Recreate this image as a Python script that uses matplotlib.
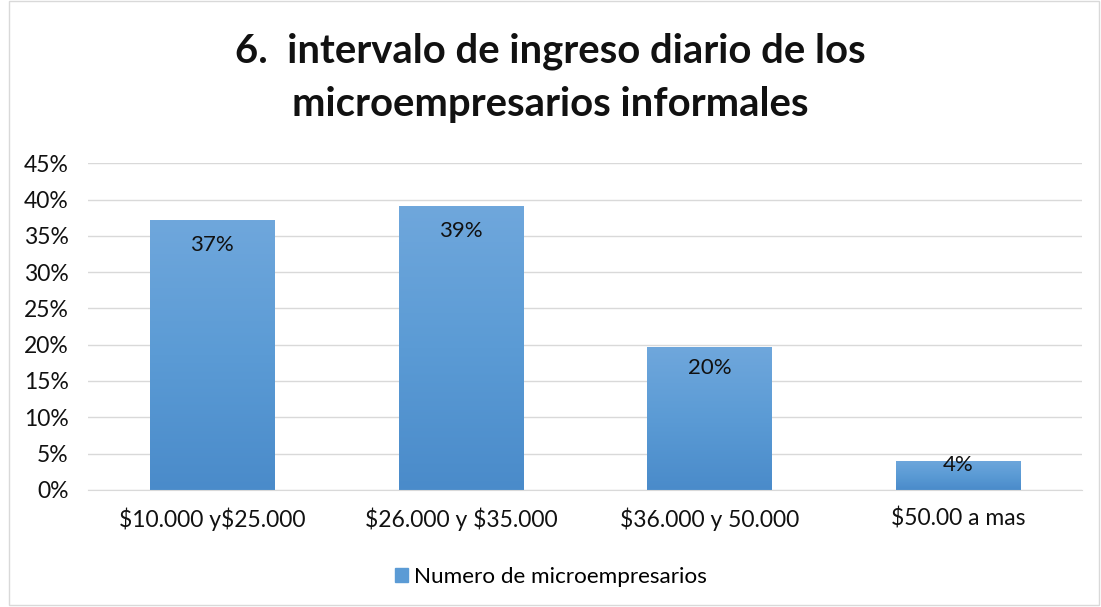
import matplotlib.pyplot as plt
from matplotlib.patches import Rectangle
from matplotlib.ticker import PercentFormatter
from matplotlib.colors import LinearSegmentedColormap
import numpy as np

categories = ['$10.000 y$25.000', '$26.000 y $35.000', '$36.000 y 50.000', '$50.00 a mas']
values = [0.372, 0.391, 0.197, 0.040]
labels = ['37%', '39%', '20%', '4%']
series_name = 'Numero de microempresarios'

plt.rcParams['font.family'] = ['Lato', 'DejaVu Sans']
plt.rcParams['text.parse_math'] = False

fig = plt.figure(figsize=(11.01, 6.07), dpi=100)
ax = fig.add_axes([0.080, 0.193, 0.903, 0.538])

x = np.arange(len(categories))
bars = ax.bar(x, values, width=0.5, color='#5B9BD5', zorder=2)

# vertical gradient on each bar
grad = np.linspace(0, 1, 256).reshape(-1, 1)
cmap = LinearSegmentedColormap.from_list('g', ['#4A8BCA', '#5B9BD5', '#6FA7DC'])
for b in bars:
    bx, by = b.get_x(), b.get_y()
    im = ax.imshow(grad, cmap=cmap, aspect='auto', origin='lower',
                   extent=[bx, bx + b.get_width(), by, by + b.get_height()], zorder=2)
    im.set_clip_path(b)
    b.set_alpha(0)

# labels inside end of the bar, pulled up for short bars
for xi, v, lab in zip(x, values, labels):
    ax.text(xi, v - min(0.034, 0.15 * v), lab, ha='center', va='center',
            fontsize=16, color='#111111', zorder=3)

ax.set_xlim(-0.5, len(categories) - 0.5)
ax.set_ylim(0, 0.45)
ax.set_yticks(np.arange(0, 0.451, 0.05))
ax.yaxis.set_major_formatter(PercentFormatter(1.0, decimals=0))
ax.set_xticks(x)
ax.set_xticklabels(categories)
ax.tick_params(axis='both', length=0, labelsize=16.5, colors='#111111')
ax.tick_params(axis='x', pad=13)
ax.tick_params(axis='y', pad=14)
ax.grid(axis='y', color='#D9D9D9', linewidth=1, zorder=0)
for s in ['top', 'right', 'left']:
    ax.spines[s].set_visible(False)
ax.spines['bottom'].set_color('#D9D9D9')

fig.text(0.5, 0.915, '6.  intervalo de ingreso diario de los', ha='center', va='center',
         fontsize=28.8, fontweight='bold', color='#111111')
fig.text(0.5, 0.828, 'microempresarios informales', ha='center', va='center',
         fontsize=28.8, fontweight='bold', color='#111111')

handle = Rectangle((0, 0), 1, 1, color='#5B9BD5')
fig.legend([handle], [series_name], loc='center', bbox_to_anchor=(0.5, 0.05),
           frameon=False, fontsize=16.2, handlelength=0.6, handleheight=0.6, handletextpad=0.25)

fig.patches.append(Rectangle((0.008, 0.003), 0.99, 0.995, transform=fig.transFigure,
                             fill=False, edgecolor='#D9D9D9', linewidth=1))

plt.savefig('out.png', dpi=100)
